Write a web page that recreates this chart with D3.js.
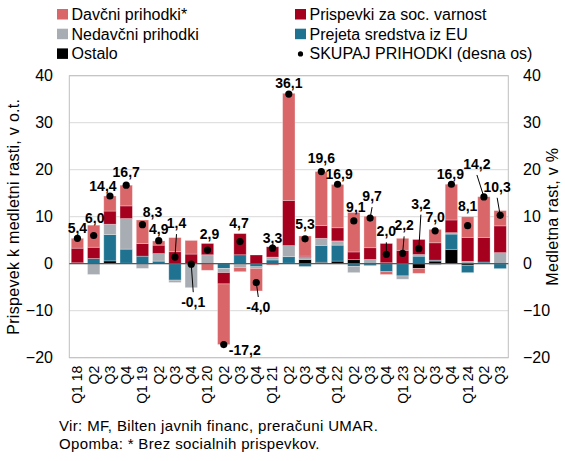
<!DOCTYPE html>
<html>
<head>
<meta charset="utf-8">
<script src="https://cdn.jsdelivr.net/npm/d3@7"></script>
<style>
  html, body { margin: 0; padding: 0; background: #fff; }
  svg { display: block; font-family: "Liberation Sans", Arial, sans-serif; }
</style>
</head>
<body>
<svg id="chart" width="565" height="461"></svg>
<script>
const categories = ["Q1 18","Q2","Q3","Q4","Q1 19","Q2","Q3","Q4","Q1 20","Q2","Q3","Q4","Q1 21","Q2","Q3","Q4","Q1 22","Q2","Q3","Q4","Q1 23","Q2","Q3","Q4","Q1 24","Q2","Q3"];

const ostalo    = [0.2, 0, 0.6, 0.1, 0, 0, 0, 0, 0, 0, -0.2, 0, 0, 0.1, 0.9, 0.3, 0.55, 0.9, 0, 0, 0, -1.0, 0.55, 3.05, -0.35, 0, 0];
const euSredstva = [0, 1.1, 5.6, 3.0, 1.6, 0.55, -3.5, 0, 0, -1.0, 1.9, -0.65, 0.8, 1.4, -0.6, 3.6, 3.4, -0.6, -0.4, -1.7, -2.6, 1.6, 0.2, 3.25, -1.55, 0.35, -1.05];
const nedavcni  = [0, -2.3, 2.2, 6.5, -1.0, 1.6, -0.5, -5.1, 1.9, -0.9, -0.6, -0.35, 0.6, 2.35, 0.4, 1.5, 0.9, -1.3, 0.9, 0.2, -0.7, 0.35, -0.3, 0.3, 0.5, 0, 2.35];
const prispevki = [3.1, 2.4, 2.8, 2.7, 2.7, 1.8, 2.55, 2.05, 2.4, -2.4, 4.5, 1.85, 2.2, 9.6, 0.3, 2.7, 2.8, 1.6, 2.5, 4.1, 2.85, 3.2, 3.7, 2.7, 5.1, 5.25, 5.7];
const davcni    = [2.1, 4.7, 3.2, 4.4, 5.0, 0.9, 3.0, 2.9, -1.4, -12.9, -0.9, -4.8, -0.3, 22.8, 4.3, 11.5, 9.2, 8.4, 6.7, -0.6, 2.55, -1.05, 2.85, 7.6, 4.4, 8.65, 3.25];
const skupaj    = [5.4, 6.0, 14.4, 16.7, 8.3, 4.9, 1.4, -0.1, 2.9, -17.2, 4.7, -4.0, 3.3, 36.1, 5.3, 19.6, 16.9, 9.1, 9.7, 2.0, 2.2, 3.2, 7.0, 16.9, 8.1, 14.2, 10.3];

const yTicks = [-20, -10, 0, 10, 20, 30, 40];

const seriesNames = ["Ostalo", "Prejeta sredstva iz EU", "Nedavčni prihodki", "Prispevki za soc. varnost", "Davčni prihodki*"];
const seriesValues = [ostalo, euSredstva, nedavcni, prispevki, davcni];
const seriesColors = ["#000000", "#1F7391", "#A7ADB3", "#A5001E", "#D96769"];

// label nudges (layout only): [dx, dy, leader]
const labelNudge = [
  [0,-5,0],[1,-12.5,0],[-7,-5,0],[0,-8,0],[10,-7.5,0],[0,-6.5,0],[1.5,-29,1],[2,43,1],
  [2,-11,0],[21,10.5,0],[-1,-13.5,0],[2,29.5,1],[0,-5,0],[0,-6,0],[0,-10,0],[0,-8.5,0],
  [1.5,-5,0],[2,-8.5,0],[2,-17,1],[0,-18,1],[1.5,-23,1],[2,-40,1],[0,-9,0],[-1,-5.5,0],
  [0,-14.5,0],[-7,-28,1],[-3,-23.5,1]
];

const svg = d3.select("#chart");
const plot = { left: 69.3, right: 508.3, top: 75.7, bottom: 357.7 };

const idx = d3.range(categories.length);
const x = d3.scaleBand().domain(idx).range([plot.left, plot.right]).paddingInner(0.24).paddingOuter(0.12);
const y = d3.scaleLinear().domain([-20, 40]).range([plot.bottom, plot.top]);
const yR = d3.scaleLinear().domain([-20, 40]).range([plot.bottom, plot.top]);

// gridlines
svg.append("g").selectAll("line").data(yTicks).join("line")
  .attr("x1", plot.left).attr("x2", plot.right)
  .attr("y1", d => y(d)).attr("y2", d => y(d))
  .attr("stroke", "#D9D9D9").attr("stroke-width", 1);

// frame
svg.append("rect").attr("x", plot.left).attr("y", plot.top)
  .attr("width", plot.right - plot.left).attr("height", plot.bottom - plot.top)
  .attr("fill", "none").attr("stroke", "#BFBFBF").attr("stroke-width", 1);

// stacked data
const table = idx.map(i => {
  const o = { i };
  seriesNames.forEach((n, k) => o[n] = seriesValues[k][i]);
  return o;
});
const stack = d3.stack().keys(seriesNames).offset(d3.stackOffsetDiverging);
const stacked = stack(table);

svg.append("g").selectAll("g").data(stacked).join("g")
  .attr("fill", (d, k) => seriesColors[k])
  .selectAll("rect").data(d => d).join("rect")
  .attr("x", d => x(d.data.i))
  .attr("width", x.bandwidth())
  .attr("y", d => y(Math.max(d[0], d[1])))
  .attr("height", d => Math.abs(y(d[0]) - y(d[1])))
  .attr("stroke", "#ffffff").attr("stroke-opacity", 0.35).attr("stroke-width", 0.8);

// zero line
svg.append("line").attr("x1", plot.left).attr("x2", plot.right)
  .attr("y1", y(0)).attr("y2", y(0)).attr("stroke", "#595959").attr("stroke-width", 1.2);

// left axis
const leftAxis = d3.axisLeft(y).tickValues(yTicks).tickSize(0).tickPadding(0);
const gL = svg.append("g").attr("transform", `translate(${53},0)`).call(leftAxis);
gL.select(".domain").remove();
gL.selectAll("text").attr("font-size", 16).attr("fill", "#000").attr("font-family", "Liberation Sans, Arial, sans-serif");

// right axis
const rightAxis = d3.axisRight(yR).tickValues(yTicks).tickSize(0).tickPadding(0);
const gR = svg.append("g").attr("transform", `translate(${523},0)`).call(rightAxis);
gR.select(".domain").remove();
gR.selectAll("text").attr("font-size", 16).attr("fill", "#000").attr("font-family", "Liberation Sans, Arial, sans-serif");

// x axis labels
const xAxis = d3.axisBottom(x).tickSize(0).tickPadding(0).tickFormat(i => categories[i]);
const gX = svg.append("g").attr("transform", `translate(0,${plot.bottom})`).call(xAxis);
gX.select(".domain").remove();
gX.selectAll("text")
  .attr("font-size", 14).attr("fill", "#000").attr("font-family", "Liberation Sans, Arial, sans-serif")
  .attr("transform", "rotate(-90)")
  .attr("text-anchor", "end")
  .attr("x", -8).attr("y", 0).attr("dy", "0.35em");

// leader lines
const dotsG = svg.append("g");
idx.forEach(i => {
  const [dx, dy, leader] = labelNudge[i];
  if (!leader) return;
  const cx = x(i) + x.bandwidth() / 2;
  const cy = yR(skupaj[i]);
  const tx = cx + dx;
  const ty = cy + dy;
  const endY = dy < 0 ? ty + 6 : ty - 15;
  dotsG.append("line").attr("x1", cx).attr("y1", cy).attr("x2", tx).attr("y2", endY)
    .attr("stroke", "#000").attr("stroke-width", 1);
});

// total dots
dotsG.selectAll("circle").data(idx).join("circle")
  .attr("cx", i => x(i) + x.bandwidth() / 2)
  .attr("cy", i => yR(skupaj[i]))
  .attr("r", 3.6).attr("fill", "#000");

// labels
const fmt = v => d3.format(".1f")(v).replace(".", ",").replace("−", "-");
svg.append("g").selectAll("text").data(idx).join("text")
  .attr("x", i => x(i) + x.bandwidth() / 2 + labelNudge[i][0])
  .attr("y", i => yR(skupaj[i]) + labelNudge[i][1])
  .attr("text-anchor", "middle")
  .attr("font-size", 14).attr("font-weight", "bold").attr("fill", "#000")
  .text(i => fmt(skupaj[i]));

// axis titles
svg.append("text")
  .attr("transform", `translate(19,${(plot.top + plot.bottom) / 2}) rotate(-90)`)
  .attr("text-anchor", "middle").attr("font-size", 16).attr("letter-spacing", 0.3).attr("fill", "#000")
  .text("Prispevek k medletni rasti, v o.t.");
svg.append("text")
  .attr("transform", `translate(558,${(plot.top + plot.bottom) / 2}) rotate(-90)`)
  .attr("text-anchor", "middle").attr("font-size", 16).attr("letter-spacing", 0.3).attr("fill", "#000")
  .text("Medletna rast, v %");

// legend
const legendItems = [
  { name: "Davčni prihodki*", color: seriesColors[4], col: 0, row: 0, type: "rect" },
  { name: "Prispevki za soc. varnost", color: seriesColors[3], col: 1, row: 0, type: "rect" },
  { name: "Nedavčni prihodki", color: seriesColors[2], col: 0, row: 1, type: "rect" },
  { name: "Prejeta sredstva iz EU", color: seriesColors[1], col: 1, row: 1, type: "rect" },
  { name: "Ostalo", color: seriesColors[0], col: 0, row: 2, type: "rect" },
  { name: "SKUPAJ PRIHODKI (desna os)", color: "#000", col: 1, row: 2, type: "dot" }
];
const colX = [57, 295];
const rowY = [20, 39.7, 59.4];
const lg = svg.append("g");
legendItems.forEach(it => {
  const gx = colX[it.col], gy = rowY[it.row];
  if (it.type === "rect") {
    lg.append("rect").attr("x", gx).attr("y", gy - 11).attr("width", 11).attr("height", 10.5).attr("fill", it.color);
  } else {
    lg.append("circle").attr("cx", gx + 5.5).attr("cy", gy - 5.5).attr("r", 2.6).attr("fill", it.color);
  }
  lg.append("text").attr("x", gx + 14.5).attr("y", gy).attr("font-size", 16).attr("fill", "#000").text(it.name);
});

// footnotes
svg.append("text").attr("x", 59).attr("y", 431).attr("font-size", 15).attr("letter-spacing", 0.35).attr("fill", "#000")
  .text("Vir: MF, Bilten javnih financ, preračuni UMAR.");
svg.append("text").attr("x", 59).attr("y", 449).attr("font-size", 15).attr("letter-spacing", 0.35).attr("fill", "#000")
  .text("Opomba: * Brez socialnih prispevkov.");
</script>
</body>
</html>
